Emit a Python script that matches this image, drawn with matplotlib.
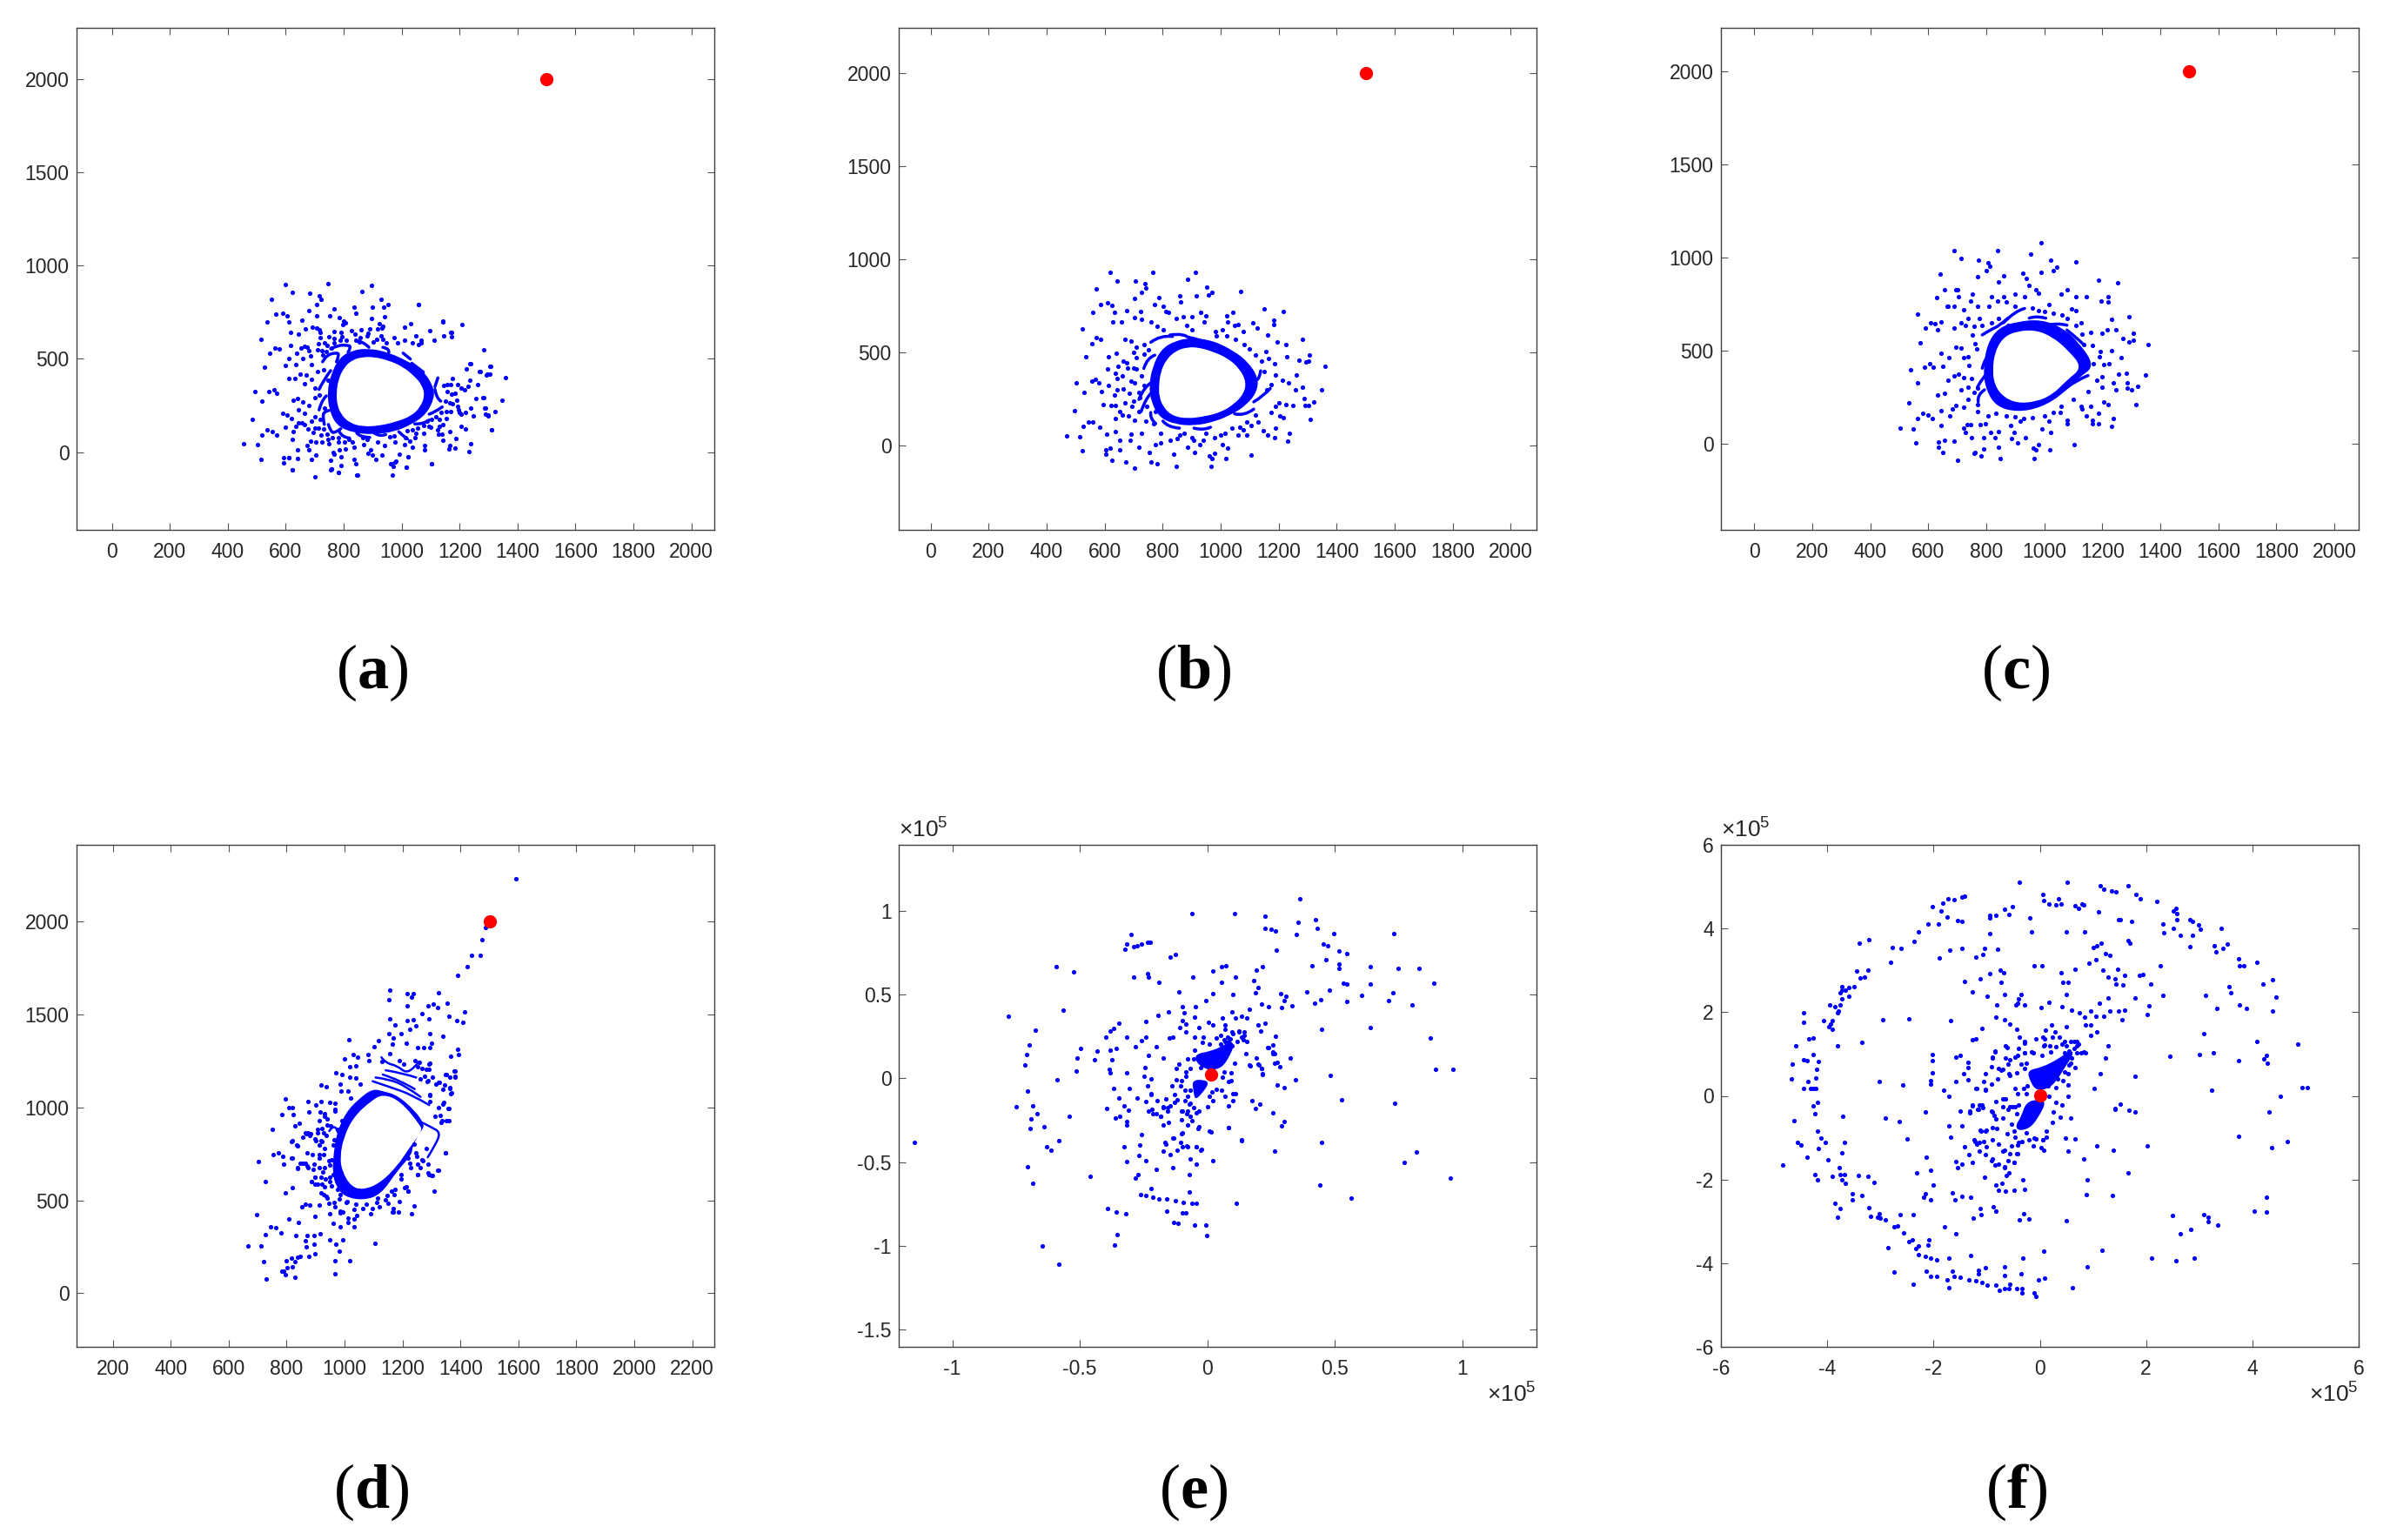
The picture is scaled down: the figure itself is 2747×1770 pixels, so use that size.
#!/usr/bin/env python3
# six scatter panels, blue points with a red target marker
import matplotlib
matplotlib.use('Agg')
import matplotlib.pyplot as plt
from matplotlib.path import Path
from matplotlib.patches import PathPatch

plt.rcParams['font.family'] = ['Liberation Sans', 'DejaVu Sans']
plt.rcParams['mathtext.fontset'] = 'custom'
plt.rcParams['mathtext.rm'] = 'Liberation Serif'
plt.rcParams['mathtext.bf'] = 'Liberation Serif:bold'
plt.rcParams['mathtext.sf'] = 'Liberation Sans'

target = (1500, 2000)
target_e = (0.015, 0.022)
target_f = (0.0, 0.02)

#### panel (a) ####
a_pts = [(745,902),(895,893),(622,855),(682,853),(863,861),(716,839),(723,819),(929,819),(707,794),(952,790),(938,777),(898,777),(836,779),(1057,790),(767,768),(681,760),(841,743),(707,732),(753,732),(941,724),(784,721),(895,715),(657,708),(800,705),(805,694),(611,696),(797,683),(924,691),(934,676),(1031,688),(1010,668),(1141,698),(1207,683),(692,669),(668,662),(707,666),(715,655),(719,640),(827,652),(766,648),(859,658),(891,660),(916,660),(931,666),(1098,651),(1171,643),(616,644),(643,632),(792,640),(838,634),(883,638),(718,615),(749,621),(795,619),(766,609),(857,612),(928,624),(973,612),(1050,624),(1146,624),(1171,618),(880,623),(1009,598),(1111,602),(1066,598),(787,598),(808,601),(766,588),(735,587),(843,598),(855,593),(903,591),(915,604),(935,604),(947,585),(986,585),(1038,585),(1058,579),(1068,585),(618,573),(712,582),(742,573),(757,560),(654,560),(665,568),(675,562),(681,542),(639,532),(709,548),(725,543),(739,541),(686,517),(729,520),
(456,44),(502,39),(514,-41),(517,92),(486,177),(493,323),(517,275),(542,326),(560,336),(570,316),(526,454),(545,529),(563,557),(577,555),(516,606),(537,698),(565,739),(590,745),(605,732),(552,822),(600,901),(535,118),(553,110),(568,90),(593,-31),(593,-59),(610,-31),(623,-95),(702,-134),(759,-90),(783,-110),(847,-123),(967,-123),(964,-64),(977,-54),(1016,-82),(1104,-62),(1021,-26),(1231,3),(1237,46),(1311,118),(1347,280),(1321,218),(1297,198),(1288,234),(1282,290),(1357,398),(1306,462),(1283,547),(1237,475),(1295,416),(1272,434),(1170,644),(1142,701),(1058,791),
(1236,474),(1305,460),(1223,448),(1269,432),(1303,420),(1291,414),(1234,387),(1262,362),(1229,351),(1217,336),(1205,342),(1192,362),(1175,393),(1170,364),(1158,362),(1144,356),(1183,317),(1172,309),(1158,325),(1191,279),(1150,273),(1165,265),(1175,258),(1194,247),(1257,287),(1281,292),(1285,236),(1237,236),(1289,203),(1299,195),(1247,195),(1219,211),(1205,205),(1198,214),(1195,226),(1168,215),(1153,215),(1135,211),(1155,180),(1117,190),(1130,175),(1141,148),(1204,139),(1219,122),(1310,120),(1165,109),(1125,117),(1128,98),(1138,98),(1188,73),(1143,63),(1185,19),(1165,36),(1163,17),(1101,133),(1088,167),(1102,177),(1095,136),(1075,102),(1055,130),(1037,120),(1020,113),(1047,77),(1079,36),(1078,11),(1037,27),(1021,-26),(1102,-62),(1016,-81),(980,-51),(961,-65),(970,-79),(991,-12),(933,-17),(911,-42),(899,-14),(883,-8),(893,13),(846,-125),(842,-61),(836,-39),(792,-73),(791,-26),(754,-45),(765,0),(768,-12),(784,13),(806,17),(836,24),(781,-112),(759,-89),(755,-98),(622,-95),(688,-40),(704,-17),(641,-33),(610,-28),(681,11),(640,13),(675,36),(686,58),(703,56),(724,53),(748,44),(623,66),(627,109),(694,106),(712,130),(701,128),(678,125),(666,145),(655,155),(645,155),(635,139),(732,125),(743,98),(723,89),(760,78),(745,67),(783,55),(783,75),(802,52),(818,70),(831,55),(865,78),(880,67),(868,39),(916,55),(942,34),(959,83),(975,86),(977,52),(1009,39),(1013,78),(1028,58),(1049,102),(1075,141),(1130,136),
(650,420),(632,397),(672,415),(690,392),(710,430),(665,365),(700,345),(625,280),(640,285),(660,270),(680,250),(700,290),(715,305),(730,440),(600,465),(610,395),(590,210),(605,200),(600,135),(620,180),(645,225),(665,210),(700,190),(720,175),(690,165),(735,235),(745,385),(690,470),(660,500),(635,470),(610,500)]
a_arms = [[(755,554),(780,573),(810,574),(827,566),(815,535)],
          [(727,484),(740,520),(775,534),(785,523),(775,484)],
          [(715,336),(730,385),(755,437)],
          [(715,226),(725,281),(740,301)],
          [(733,148),(727,195),(735,219),(750,223)],
          [(747,148),(755,109),(770,102),(790,125)],
          [(785,109),(795,78),(820,75)],
          [(845,102),(855,81),(890,78)],
          [(905,102),(925,81),(945,94)],
          [(990,109),(1005,86),(1020,70)],
          [(1045,151),(1075,148),(1095,172)],
          [(1095,203),(1115,214),(1140,242)],
          [(1115,336),(1120,289),(1135,273)],
          [(1115,351),(1125,398)],
          [(1035,476),(1075,429)],
          [(1005,531),(1030,499)],
          [(935,562),(960,554),(955,531)],
          [(845,598),(870,590),(887,562)]]
a_ring_outer = [(743,320),(755,414),(785,507),(830,546),(885,557),(955,535),(1025,484),(1075,437),(1110,351),(1113,289),(1085,203),(1035,148),(975,109),(905,94),(835,102),(775,141),(750,226)]
a_ring_inner = [(775,312),(780,382),(800,453),(830,495),(865,510),(905,510),(955,492),(1005,457),(1045,406),(1070,359),(1080,304),(1065,242),(1035,195),(985,164),(925,141),(865,136),(820,156),(790,203),(777,258)]

#### panel (b) ####
b_pts = [(468,54),(514,49),(522,-28),(527,103),(496,190),(502,338),(529,285),(555,346),(568,356),(580,338),(535,477),(555,549),(572,579),(586,574),(524,628),(558,718),(586,759),(610,769),(624,756),(572,844),(619,933),(643,887),(766,933),(705,885),(914,933),(885,895),(738,872),(743,849),(728,826),(786,797),(858,805),(863,774),(952,854),(970,826),(957,808),(916,805),(1069,831),(1151,736),(1217,720),(1183,674),(1183,649),(1110,659),(1041,718),(1020,697),(703,792),(773,759),(802,749),(812,723),(677,728),(723,723),(633,715),(628,667),(657,667),(703,690),(726,677),(759,667),(781,641),(801,621),(819,718),(847,685),(870,692),(900,692),(932,718),(949,697),(944,667),(883,646),(900,621),(982,615),(1007,621),(1023,667),(1048,646),(1060,651),(1077,615),(1125,633),(1163,595),(1196,559),(1155,505),(1229,479),(1283,574),(1306,490),(1361,428),(1270,462),(1224,544),(1262,379),(1295,449),(1303,454),(1348,300),(1320,236),(1292,218),(1302,215),(1287,256),(1282,313),(1257,300),(1234,338),(1212,351),(1188,382),(1249,215),(1224,223),(1201,231),(1217,151),(1204,159),(1188,95),(1185,44),(1163,56),(1237,69),(1232,26),(1309,144),(1130,126),(1147,82),(1105,108),(1077,87),(1104,-49),(1018,-67),(1023,-10),(979,-41),(967,-108),(960,-56),(970,-67),(911,-33),(847,-110),(839,-46),(781,-97),(759,-85),(753,-33),(702,-121),(674,-85),(652,-21),(619,-13),(603,-46),(605,-21),(624,-79),(692,62),(687,31),(717,-8),(776,5),(792,18),(825,31),(886,-8),(908,31),(929,5),(1007,5),(1015,69),(949,69),(875,69),(792,69),(727,69),(652,31),(636,77),(606,64),(583,100),(558,126),(545,128),(636,146),(661,164),(682,159),(703,138),(743,133),(768,120),(776,185),(718,185),(694,210),(652,185),(636,218),(621,218),(595,223),(590,292),(634,274),(644,300),(664,305),(685,282),(718,287),(702,338),(735,326),(661,377),(644,364),(614,326),(636,390),(664,454),(677,446),(710,415),(726,377),(710,472),(735,492),(751,518),(647,428),(611,415),(614,480),(641,497),(669,574),(690,564),(710,531),(735,544),
(1000,60),(1040,95),(1060,60),(1090,130),(1120,165),(1175,180),(1190,210),(1160,300),(1175,330),(1150,400),(1185,440),(1140,455),(1165,470),(1120,490),(1100,520),(1080,545),(1050,570),(1020,590),(985,590),(850,40),(860,60),(900,45),(940,30),(980,45),(1090,60),(1065,100),(700,420),(690,350),(720,260),(700,240),(670,230),(745,210),(700,500),(680,420)]
b_arms = [[(759,556),(792,595),(834,587)],
          [(735,415),(746,472),(773,487)],
          [(718,249),(735,313),(759,338)],
          [(726,185),(740,249),(759,282)],
          [(759,179),(756,146),(776,120)],
          [(801,133),(817,100),(858,95)],
          [(908,95),(941,82),(965,100)],
          [(1048,172),(1081,159),(1114,197)],
          [(1114,236),(1147,267),(1171,308)],
          [(1105,364),(1130,326),(1138,403)],
          [(891,582),(932,569),(965,549)],
          [(825,595),(875,608),(896,574)]]
b_ring_outer = [(753,325),(765,425),(795,520),(845,565),(900,580),(975,565),(1045,510),(1095,450),(1130,365),(1125,290),(1090,220),(1040,170),(980,130),(910,108),(845,115),(790,150),(760,235)]
b_ring_inner = [(787,320),(792,392),(812,463),(845,510),(885,530),(925,528),(975,505),(1025,470),(1065,415),(1088,345),(1080,280),(1045,222),(1000,180),(945,158),(885,146),(835,160),(803,205),(788,265)]

#### panel (c) ####
c_pts = [(502,85),(547,82),(558,5),(563,136),(532,221),(580,162),(599,157),(615,136),(539,398),(563,329),(588,413),(604,429),(618,411),(571,544),(562,698),(591,621),(607,649),(623,644),(633,611),(628,786),(656,829),(695,829),(641,914),(690,1037),(713,994),(773,988),(807,973),(799,929),(813,952),(769,899),(839,1040),(843,868),(859,901),(953,1019),(989,1078),(1021,988),(1032,929),(1042,950),(990,922),(927,917),(937,888),(948,850),(972,829),(981,811),(1110,976),(1078,827),(1057,806),(1188,878),(1253,865),(1146,791),(1219,788),(1219,760),(1195,765),(1094,727),(1110,714),(1110,791),(1016,747),(981,714),(932,791),(899,804),(859,791),(839,765),(818,791),(810,739),(769,739),(753,804),(745,765),(705,791),(688,739),(664,739),(701,829),(644,657),(667,739),(721,719),(737,675),(729,637),(688,624),(713,650),(643,488),(651,418),(672,462),(696,521),(713,513),(721,462),(737,470),(766,508),(753,585),(786,637),(758,632),(777,675),(818,650),(843,675),(875,637),(1078,675),(1110,637),(1127,650),(1159,598),(1200,593),(1216,611),(1248,611),(1232,670),(1292,683),(1308,596),(1292,547),(1308,555),(1271,567),(1232,501),(1266,465),(1357,534),(1205,426),(1224,431),(1167,529),(1135,534),(1192,496),(1256,375),(1282,380),(1349,370),(1321,308),(1302,288),(1287,298),(1287,329),(1237,329),(1247,290),(1200,303),(1205,226),(1221,213),(1315,211),(1238,136),(1232,95),(1187,162),(1188,110),(1166,128),(1166,108),(1159,200),(1130,187),(1127,200),(1146,149),(1104,-5),(1078,110),(1078,128),(1055,169),(1057,200),(1016,123),(1021,59),(992,82),(1018,-33),(981,-5),(961,-23),(972,-31),(964,-77),(935,33),(907,3),(886,28),(896,59),(916,123),(883,97),(847,-77),(843,-18),(830,33),(843,67),(815,59),(792,33),(792,-26),(782,-64),(761,-44),(757,-51),(750,33),(701,-87),(651,-46),(636,8),(636,-18),(656,21),(688,15),(721,85),(727,59),(734,103),(747,103),(778,103),(769,175),(797,110),(805,149),(834,162),(675,149),(683,187),(696,205),(721,195),(643,180),(643,98),(631,262),(656,272),(669,341),(688,367),(705,375),(721,354),(737,303),(757,277),(713,290),(769,213),(737,239),
(1000,150),(960,140),(930,135),(900,145),(870,150),(1030,170),(1100,240),(1150,280),(1180,340),(1200,360),(1170,430),(1190,470),(1130,590),(1060,690),(1030,700),(1000,710),(960,730),(900,740),(870,760),(760,540),(740,420),(750,350),(770,300)]
c_arms = [[(786,585),(818,616),(843,632),(875,675)],
          [(786,406),(797,470),(818,488)],
          [(769,303),(786,354),(810,393)],
          [(772,226),(769,265),(794,290)],
          [(859,650),(899,714),(932,727)],
          [(948,675),(972,688),(1005,675)],
          [(1011,637),(1044,650),(1078,637)],
          [(1078,611),(1110,572),(1135,534)],
          [(1078,303),(1110,341),(1151,367)]]
c_ring_outer = [(789,393),(802,534),(842,624),(907,657),(989,668),(1062,624),(1118,547),(1175,418),(1118,354),(1062,265),(989,195),(907,170),(834,200),(799,290)]
c_ring_inner = [(821,393),(830,496),(859,573),(907,606),(972,611),(1029,573),(1078,509),(1132,411),(1078,342),(1029,265),(972,226),(907,218),(859,252),(830,311)]

#### panel (d) ####
d_pts = [(1591,2231),(1485,1967),(1473,1905),(1355,1559),(1439,1817),(1467,1820),(1424,1757),(1389,1709),(1157,1629),(1215,1614),(1238,1612),(1232,1592),(1324,1619),(1152,1579),(1307,1556),(1289,1546),(1321,1536),(1216,1546),(1268,1506),(1414,1516),(1359,1491),(1157,1479),(1387,1466),(1408,1459),(1291,1476),(1238,1474),(1215,1466),(1174,1446),(1245,1441),(1226,1421),(1295,1398),(1196,1398),(1168,1373),(1338,1383),(1152,1396),(1014,1366),(1118,1361),(1212,1346),(1166,1341),(1301,1346),(1252,1323),(1272,1323),(1295,1323),(1389,1313),(1392,1283),(1367,1276),(1101,1328),(1080,1283),(1030,1286),(1001,1263),(1044,1273),(1019,1221),(1039,1224),(1083,1253),(1130,1246),(1155,1291),(1188,1253),(1205,1233),(1243,1253),(1258,1241),(1295,1236),(1292,1203),(1377,1198),(1352,1178),(1382,1165),(1261,1153),(1286,1140),(1324,1135),(1344,1123),(1364,1103),(1369,1078),(1295,1065),(1341,1028),(1359,995),(1337,927),(1359,927),(1349,757),(1324,664),(1291,639),(1302,634),(1310,551),(1253,639),(1212,571),(1220,551),(1241,471),(1232,426),(1187,439),(1168,456),(1168,439),(1104,268),(1017,175),(968,105),(968,175),(981,226),(993,288),(984,358),(1034,356),(1034,401),(1011,381),(993,439),(968,464),(961,376),(948,288),(969,263),(897,213),(896,263),(876,200),(894,313),(916,321),(870,311),(866,281),(867,251),(846,200),(829,170),(837,195),(829,88),(816,188),(821,145),(800,175),(803,140),(791,120),(796,100),(785,118),(729,75),(722,173),(712,256),(666,256),(781,326),(744,356),(763,351),(727,318),(833,313),(808,401),(841,381),(854,464),(866,481),(879,474),(912,476),(898,414),(948,426),(984,431),(696,424),(727,601),(796,539),(821,569),(702,707),(755,747),(772,757),(786,737),(791,694),(816,727),(838,674),(856,702),(866,702),(892,669),(874,677),(899,627),(887,601),(899,589),(918,539),(923,589),(935,614),(940,514),(965,489),(750,882),(819,822),(836,797),(828,902),(783,962),(795,1048),(808,1000),(819,998),(823,960),(845,915),(874,1033),(918,1033),(900,1015),(948,1028),(966,1023),(968,990),(931,965),(940,940),(866,865),(874,865),(882,860),(907,865),(920,1123),(936,1113),(969,1186),(990,1178),(984,1128),(988,1090),(1011,1088),(1019,1165),(1039,1158),(1055,1128),(1022,1053),(953,902),(965,827),(923,815),(899,832),(912,797),(931,777),(914,727),(945,714),(931,677),(919,627),(948,627),(956,576),(931,571),(981,506),(1006,489),(1032,451),(1063,456),(1096,456),(1121,464),(1146,526),(1113,514),(1162,551),(1195,614),(1220,727),(1241,802),(1261,677),(1269,714),(1248,739),(1228,677),
(877,977),(917,974),(932,951),(967,982),(912,930),(940,908),(907,880),(922,885),(867,860),(880,849),(855,838),(902,821),(919,821),(837,795),(927,865),(937,849),(872,754),(890,745),(912,748),(927,748),(817,818),(819,726),(837,670),(847,701),(872,685),(896,693),(912,678),(924,654),(897,623),(887,600),(907,589),(927,532),(937,522),(947,483),(984,444),(1012,405),(1042,420),(1090,428),(1165,436),(1189,493),(1207,568),(1219,548),(1150,483),(1170,532),(1287,646),(1300,634),(1252,639),(1322,662),(1347,756),(1252,693),(1267,717),(1287,693),(1282,779),(1332,919),(1350,927),(1312,951),(1330,958),(1357,993),(1339,1018),(1294,1068),(1295,1033),(1324,1000),(1362,1107),(1366,1075),(1340,1096),(1315,1125),(1327,1135),(1347,1177),(1362,1164),(1382,1169),(1380,1197),(1302,1161),(1277,1169),(1287,1146),(1282,1203),(1267,1208),(1252,1220),(1292,1234),
(955,720),(948,690),(960,640),(950,600),(975,560),(985,530),(1010,495),(1040,480),(1075,478),(1110,490),(1140,505),(960,800),(975,880),(990,930),(1175,560),(1195,640),(1225,700),(1245,755)]
d_strands = [[(1097,1141),(1162,1107),(1232,1068),(1292,1013)],
             [(1107,1161),(1152,1153),(1212,1114),(1262,1057)],
             [(1132,1177),(1192,1146),(1242,1099)],
             [(1142,1200),(1202,1185),(1247,1161)],
             [(1127,1270),(1142,1239),(1182,1224),(1212,1185),(1242,1216),(1257,1247)],
             [(1267,919),(1297,896),(1332,865),(1312,795),(1287,732)],
             [(947,873),(967,919),(977,865)]]
d_ring_outer = [(962,748),(972,860),(1005,975),(1052,1050),(1097,1100),(1132,1088),(1182,1066),(1242,985),(1278,904),(1262,870),(1235,795),(1232,745),(1182,660),(1125,530),(1062,500),(1000,520),(970,575),(958,654)]
d_ring_inner = [(984,732),(997,841),(1032,951),(1092,1036),(1132,1072),(1192,1036),(1262,904),(1267,873),(1222,779),(1182,685),(1122,592),(1062,556),(1022,576),(992,654)]

#### panel (e), units of 1e5 ####
e_pts = [(-1.15,-.38),(-.78,.37),(-.75,-.17),(-.715,.08),(-.71,.14),(-.70,.20),(-.676,.29),(-.704,-.075),(-.684,-.164),(-.69,-.24),(-.667,-.21),(-.695,-.30),(-.704,-.53),(-.685,-.627),(-.646,-1.0),(-.584,-1.11),(-.639,-.29),(-.629,-.41),(-.612,-.43),(-.584,-.373),(-.594,.668),(-.524,.638),(-.567,.407),(-.498,.181),(-.511,.123),(-.513,.042),(-.588,-.006),(-.541,-.226),(-.459,-.585),(-.444,.109),(-.433,.164),(-.397,.248),(-.38,.281),(-.369,.30),(-.346,.331),(-.382,.17),(-.356,.178),(-.375,.109),(-.384,.053),(-.38,.033),(-.367,-.061),(-.348,-.12),(-.395,-.181),(-.36,-.237),(-.345,-.226),(-.328,-.164),(-.311,-.192),(-.315,-.259),(-.318,-.281),(-.326,-.407),(-.315,-.496),(-.39,-.777),(-.356,-.797),(-.32,-.81),(-.354,-.933),(-.363,-.997),(-.324,.772),(-.317,.805),(-.298,.858),(-.29,.788),(-.275,.794),(-.258,.80),(-.234,.811),(-.225,.813),(-.288,.607),(-.236,.627),(-.232,.604),(-.189,.574),(-.146,.724),(-.125,.738),(-.112,.518),(-.06,.986),(-.056,.604),(.021,.643),(.107,.986),(.227,.969),(.227,.897),(.249,.889),(.268,.883),(.361,1.072),(.356,.933),(.425,.95),(.43,.897),(.348,.858),(.494,.864),(.455,.805),(.472,.794),(.27,.766),(.464,.708),(.515,.763),(.547,.747),(.517,.685),(.515,.655),(.41,.671),(.056,.669),(.071,.674),(.109,.604),(.191,.649),(.217,.666),(.18,.582),(.199,.543),(.189,.51),(.054,.574),(.021,.507),(-.006,.465),(.099,.499),(.288,.504),(.308,.49),(.30,.465),(.29,.421),(.331,.435),(.39,.518),(.479,.529),(.421,.448),(.444,.468),(.448,.292),(.532,.571),(.547,.565),(.547,.46),(.605,.496),(.637,.565),(.64,.666),(.749,.657),(.828,.657),(.73,.864),(.888,.571),(.728,.51),(.71,.465),(.803,.44),(.637,.306),(.875,.242),(.895,.053),(.963,.053),(.483,.017),(.526,-.128),(.734,-.148),(.448,-.382),(.818,-.44),(.772,-.504),(.951,-.596),(.44,-.638),(.564,-.713),(.112,-.747),(.262,-.437),(.133,-.368),(.022,-.493),(.009,-.315),(.084,-.292),(.29,-.284),(.30,-.256),(.257,-.206),(.204,-.153),(.189,-.178),(.174,-.134),(.30,-.056),(.272,-.039),(.345,-.008),(.215,.028),(.163,.078),(.2,.084),(.213,.058),(.275,.095),(.285,.072),(.324,.12),(.264,.145),(.238,.184),(.257,.156),(.266,.253),(.208,.281),(.227,.331),(.197,.318),(.238,.429),(.212,.446),(.165,.415),(.135,.373),(.154,.359),(.109,.359),(.097,.396),(.06,.359),(.004,.337),(-.047,.426),(-.099,.429),(-.09,.393),(-.154,.396),(-.195,.376),(-.24,.34),(-.099,.345),(-.052,.365),(-.109,.304),(-.084,.323),(-.034,.304),(.022,.318),(.069,.318),(-.137,.248),(-.15,.242),(-.086,.276),(-.049,.248),(-.015,.248),(-.318,.248),(-.24,.248),(-.258,.228),(-.281,.187),(-.202,.187),(-.23,.136),(-.174,.123),(-.245,.067),(-.249,.011),(-.221,-.003),(-.236,-.045),(-.221,-.092),(-.243,-.136),(-.277,-.12),(-.315,.033),(-.307,-.058),(-.217,-.184),(-.202,-.212),(-.184,-.226),(-.155,-.198),(-.174,-.17),(-.146,-.162),(-.118,-.128),(-.099,-.198),(-.071,-.156),(-.081,-.212),(-.062,-.253),(-.034,-.29),(-.099,-.323),(-.131,-.357),(-.165,-.384),(-.258,-.337),(-.264,-.398),(-.268,-.462),(-.243,-.49),(-.202,-.546),(-.137,-.532),(-.099,-.407),(-.081,-.401),(-.043,-.407),(-.024,-.426),(-.067,-.482),(-.043,-.51),(-.071,-.574),(-.281,-.596),(-.272,-.574),(-.221,-.657),(-.071,-.677),(-.161,-.791),(-.131,-.861),(-.114,-.864),(-.049,-.875),(-.006,-.875),(-.002,-.939),(-.099,-.805),(-.086,-.805),
(-.262,-.694),(-.24,-.702),(-.215,-.71),(-.189,-.719),(-.161,-.721),(-.127,-.733),(-.096,-.741),(-.062,-.747),(-.043,-.747),
(.079,.248),(.097,.276),(.125,.276),(.144,.276),(.135,.248),(.154,.22),(.116,.22),(.088,.234),(.069,.22),(.051,.206),(.097,.192),
(.053,.256),(.07,.291),(.099,.265),(.122,.282),(.144,.256),(.139,.23),(.082,.222),(.065,.23),(.036,.239),(.008,.204),(-.02,.213),(-.049,.17),(-.077,.118),(-.055,.118),(-.111,.083),(-.123,.057),(-.083,.04),(-.066,.057),(-.026,.066),(.065,.04),(.093,.031),(.059,.005),(.082,-.021),(.093,-.012),(.036,-.064),(.019,-.081),(.008,-.107),(.056,-.073),(.07,-.107),(.099,-.094),(.11,-.094),(.099,-.133),(.022,-.133),(0,-.168),(.083,-.165),(-.083,.014),(-.1,-.012),(-.123,-.007),(-.14,-.047),(-.106,-.047),(-.089,-.073),(-.066,-.073),(-.077,-.107),(-.089,-.133),(-.066,-.151),(-.055,-.177),(-.077,-.194),(-.1,-.194),(-.032,-.194),(-.066,-.229),(-.043,-.208),(-.128,-.099),(-.128,-.142),(-.162,-.125),(-.197,-.133),(-.22,-.099),(-.157,-.177),(-.174,-.177),(-.231,-.194),(-.214,-.211),(-.185,-.229),(-.1,-.246),(-.077,-.281),(-.151,-.263),(-.174,-.281),(-.1,-.333),(-.134,-.359),(-.163,-.393),(-.106,-.381),(-.077,-.411),(-.043,-.411),(-.026,-.428),(-.117,-.428),(-.145,-.454),(-.174,-.437),(-.038,-.298),(.014,-.321),(.084,-.295),(.133,-.371),(.192,.121),(.201,.08),(.212,.057),(.214,.023),(.264,.092),(.258,.201),(.235,.182),(.256,.147),(.15,.149),(.167,.075),(.105,.092)]
e_mass_up = [(-.049,.144),(.008,.161),(.053,.187),(.09,.225),(.105,.2),(.088,.135),(.059,.066),(.019,.049),(-.009,.057),(-.043,.092)]
e_mass_low = [(-.06,-.012),(-.015,-.007),(.008,-.029),(-.026,-.099),(-.049,-.128),(-.055,-.073)]

#### panel (f), units of 1e5 ####
f_pts = [(-.38,5.11),(.51,5.11),(1.13,5.03),(1.2,4.93),(1.35,4.89),(1.44,4.87),(1.66,5.02),(1.81,4.82),(1.89,4.72),(2.21,4.65),(.05,4.81),(.08,4.66),(.18,4.58),(.3,4.56),(.36,4.72),(.4,4.58),(.66,4.54),(.73,4.49),(.79,4.59),(.83,4.56),(1.11,4.39),(2.51,4.42),(2.57,4.49),(2.58,4.36),(2.58,4.22),(2.51,4.01),(2.65,3.83),(2.83,4.22),(2.88,4.16),(2.98,4.09),(3.02,3.99),(2.88,3.83),(2.82,3.57),(3.42,4.0),(3.28,3.59),(3.32,3.44),(3.44,3.53),(3.53,3.63),(3.74,3.28),(3.75,3.1),(3.84,3.1),(4.09,3.2),(4.2,2.68),(4.38,2.77),(4.45,2.37),(4.38,2.02),(3.76,2.18),(3.89,2.1),(3.56,2.62),(3.59,2.47),(3.12,2.4),(3.33,2.1),(3.09,1.48),(3.01,.99),(3.26,1.02),(2.44,.94),(3.74,.85),(4.09,1.31),(4.26,.97),(4.21,.88),(4.28,.79),(4.85,1.24),(4.94,.2),(5.04,.2),(4.52,-.02),(4.31,-.39),(4.66,-1.09),(4.37,-1.24),(3.74,-.97),(3.24,.13),(2.03,-1.19),(1.66,-1.84),(1.79,-.38),(1.68,-.35),(1.51,-.19),(1.41,-.33),(1.41,-.3),(1.79,.46),(1.03,.18),(1.13,.54),(4.27,-2.42),(4.27,-2.78),(4.04,-2.76),(3.35,-3.08),(3.09,-2.83),(3.16,-2.91),(3.16,-3.01),(2.84,-3.2),(2.65,-3.29),(2.49,-2.86),(2.11,-3.87),(2.56,-3.94),(2.91,-3.87),(1.17,-3.7),(.89,-4.08),(.62,-4.58),(.5,-2.98),(.88,-2.36),(.9,-2.01),(1.36,-2.39),(.83,-1.5),(.54,-1.33),(1.07,-1.2),(1.39,-1.3),(.49,-1.0),(.66,-1.03),(.07,-3.71),(.09,-4.35),(-.02,-4.39),(-.1,-4.72),(-.07,-4.79),(-.33,-4.61),(-.33,-4.72),(-.44,-4.6),(-.56,-4.5),(-.58,-4.61),(-.66,-4.61),(-.76,-4.65),(-.83,-4.52),(-.99,-4.52),(-1.09,-4.46),(-1.21,-4.41),(-1.34,-4.39),(-1.49,-4.33),(-1.62,-4.31),(-1.64,-4.19),(-1.75,-4.39),(-1.71,-4.59),(-1.94,-4.31),(-2.06,-4.31),(-2.13,-4.2),(-2.38,-4.5),(-2.74,-4.22),(-.66,-4.08),(-.66,-4.3),(-.36,-4.26),(-.32,-3.87),(-1.03,-4.11),(-1.16,-4.17),(-1.15,-4.26),(-1.3,-3.82),(-1.71,-3.87),(-1.94,-3.92),(-2.06,-3.88),(-2.11,-3.57),(-2.08,-3.44),(-2.28,-3.59),(-2.33,-3.64),(-2.4,-3.44),(-2.46,-3.49),(-2.86,-3.63),(-2.28,-3.8),(-2.16,-3.83),(-2.57,-3.28),(-2.68,-3.11),(-2.75,-3.13),(-2.62,-2.84),(-2.39,-2.83),(-2.91,-2.97),(-3.02,-2.81),(-3.01,-2.92),(-3.05,-2.9),(-3.18,-2.88),(-3.21,-2.67),(-3.12,-2.07),(-3.23,-1.92),(-3.42,-1.9),(-3.35,-2.39),(-3.53,-2.33),(-3.53,-2.49),(-3.76,-2.7),(-3.8,-2.9),(-3.86,-2.56),(-3.66,-2.08),(-3.72,-2.01),(-3.75,-1.89),(-3.78,-1.71),(-3.67,-1.89),(-3.9,-1.92),(-4.19,-2.01),(-4.24,-1.88),(-4.84,-1.65),(-4.38,-1.47),(-3.98,-1.53),(-3.73,-1.36),(-4.03,-1.11),(-3.67,-1.12),(-4.17,-1.26),(-4.12,-1.0),(-4.19,-.85),(-4.49,-1.18),(-4.56,-1.11),(-4.63,-.6),(-4.23,-.42),(-4.19,-.15),(-4.26,-.23),(-3.7,-.49),(-4.67,.41),(-4.66,.76),(-4.59,1.19),(-4.35,1.36),(-4.26,1.39),(-4.26,.99),(-4.45,.87),(-4.38,.85),(-4.16,.83),(-4.2,.63),(-4.21,.43),(-4.37,.35),(-4.44,.18),(-4.32,.18),(-4.26,.18),(-4.21,.18),(-4.44,1.76),(-4.44,1.99),(-4.07,1.79),(-3.94,1.72),(-3.97,1.65),(-3.91,1.8),(-3.91,1.6),(-3.95,2.18),(-3.85,2.13),(-3.81,1.99),(-3.79,2.03),(-3.76,2.18),(-3.72,2.32),(-3.75,2.47),(-3.73,2.6),(-3.72,2.52),(-3.66,2.52),(-3.59,2.39),(-3.59,2.58),(-3.5,2.61),(-3.8,1.19),(-3.35,1.28),(-3.44,2.99),(-3.38,2.82),(-3.3,2.83),(-3.23,3.01),(-3.4,3.66),(-3.22,3.73),(-2.81,3.19),(-2.78,3.55),(-2.61,3.52),(-2.36,3.7),(-2.29,3.93),(-2.11,4.11),(-2.03,4.52),(-1.9,4.11),(-1.86,4.42),(-1.83,4.61),(-1.74,4.27),(-1.73,4.72),(-1.62,4.69),(-1.55,4.2),(-1.47,4.17),(-1.47,4.75),(-1.41,4.78),(-1.89,3.29),(-1.7,3.48),(-1.46,3.53),(-1.42,2.73),(-1.27,2.49),(-1.2,3.32),(-1.08,3.38),(-1.04,3.53),(-.8,3.5),(-1.12,2.79),(-.94,3.87),(-.94,4.32),(-.94,4.25),(-.82,4.32),(-.66,4.47),(-.58,4.34),(-.52,4.52),(-.19,4.26),(-.16,3.91),(-.11,3.1),(-.94,2.92),(-.74,3.01),(-.68,2.94),(-.73,2.71),(-.99,2.38),(-.67,2.43),(-.81,2.17),(-.42,2.21),(-.36,2.43),(-.4,2.32),(-.45,2.18),(-.29,2.18),(.04,3.1),(.02,2.11),(.18,2.23),(.5,3.91),(.4,2.95),(.44,2.71),(.54,2.71),(.5,2.43),(.66,3.03),(.85,3.91),(.93,3.18),(1.05,3.26),(1.0,3.55),(1.08,3.58),(1.16,3.64),(1.23,3.41),(1.31,3.36),(1.18,3.01),(1.28,2.83),(1.47,3.03),(1.41,2.8),(1.44,2.68),(1.56,2.65),(1.59,2.88),(1.66,3.71),(1.7,3.66),(1.48,4.22),(1.52,4.22),(1.72,4.18),(2.32,4.11),(2.33,3.89),(2.26,3.1),(1.88,2.88),(1.94,2.9),(2.09,2.68),(2.31,2.41),(1.79,2.35),(2.05,2.15),(2.03,1.95),(1.12,2.22),(1.28,2.33),(1.32,2.02),(1.48,2.02),(1.59,2.04),(1.54,1.82),(1.2,1.91),(1.05,1.91),(.95,2.02),(.74,1.98),(.59,2.04),(.42,2.13),(.86,1.69),(.5,1.66),(.84,1.88),(.96,1.69),(1.08,1.52),(.95,1.44),(1.28,1.19),(1.24,.9),(.83,1.04),(-2.46,1.85),(-2.95,1.83),(-1.68,1.79),(-3.02,.35),(-2.58,.25),(-2.02,.85),(-2.02,.55),(-2.06,.37),(-2.06,.29),(-2.02,.98),(-1.81,.13),(-1.71,0),(-1.58,.35),(-2.91,-.54),(-2.65,-.62),(-2.5,-1.03),(-2.15,-.38),(-2.13,-1.46),(-2.06,-1.78),(-2.31,-1.85),(-2.01,-2.13),(-2.15,-2.34),(-2.19,-2.43),(-2.06,-2.49),(-1.65,-2.31),(-1.6,-2.49),(-1.46,-2.4),(-1.3,-2.43),(-1.58,-3.3),(-1.8,-3.14),(-1.25,-2.92),(-1.12,-2.69),(-1.11,-2.83),(-.88,-2.66),(-.82,-2.75),(-.38,-2.96),(-.3,-2.81),(-.21,-2.95),(-.32,-2.01),(-.29,-2.24),(-.49,-2.25),(-.65,-2.27),(-.78,-2.25),(-.82,-2.14),(-.71,-2.1),(-.63,-1.9),(-.58,-1.85),(-1.04,-1.94),(-1.58,-1.57),(-1.55,-1.71),(-1.47,-1.63),(-1.27,-1.6),(-1.68,-.98),(-1.71,-.71),(-1.47,-.71),(-1.42,-1.22),(-1.34,-1.4),(-1.23,-1.06),(-1.18,-1.15),(-1.13,-1.33),(-1.0,-1.21),(-.89,-1.06),(-.78,-1.16),(-.69,-1.33),(-.56,-1.38),(-.42,-1.38),(-.42,-1.18),(-.91,-1.55),(-.78,-1.63),(-.66,-1.69),(-.49,-1.6),(-.34,-1.1),(-.1,-1.01),(.06,-1.04),(.08,-1.29),(.03,-1.23),
(-1.49,-.37),(-1.31,-.37),(-1.27,-.21),(-1.15,-.32),(-1.09,-.21),(-1.12,-.82),(-1.0,-.82),(-.91,-.36),(-.82,-.55),(-.69,-.08),(-.56,-.26),(-.47,-.27),(-.47,.18),(-.31,.18),(-.58,.52),(-.69,.63),(-.78,.66),(-.91,.29),(-1.03,.15),(-1.02,.52),(-1.06,.35),(-1.19,.18),(-1.35,.8),(-1.35,.68),(-1.44,.52),(-1.35,.38),(-1.58,.93),(-1.49,.97),(-1.27,1.35),(-1.2,1.37),(-1.09,1.61),(-.83,1.88),(-.66,1.83),(-.56,1.72),(-.44,1.6),(-.38,1.41),(-.29,1.3),(-.65,1.19),(-.84,1.08),(-.89,.9),(-.65,.9),(-.56,.87),(-.42,.96),(-.29,1.02),(-.16,1.05),(.06,1.41),(.08,1.19),(.19,1.19),(.24,1.41),(.28,1.52),(.37,1.41),(.11,1.58),(.22,1.69),(.42,1.24),
(-.35,.75),(-.26,.79),(-.28,.65),(-.46,.93),(-.29,1.03),(-.13,1.03),(.04,.96),(.2,1.06),(.31,1.17),(.47,1.31),(.58,1.31),(.69,1.31),(.69,1.2),(.69,1.03),(.58,.79),(.66,.68),(.53,.54),(.44,.37),(.31,.2),(.53,.27),(.53,0),(.17,0),(.31,-.15),(.42,-.22),(.25,-.39),(.39,-.5),(.58,-.53),(.23,-.63),(.12,-.84),(.12,-.98),(-.07,-1.03),(.06,-1.05),(-.54,-.67),(-.48,-.84),(-.62,-.91),(-.46,-.98),(-.26,-.88),(-.21,-1.05),(-.13,-1.19),(-.4,-1.12),(-.54,-1.19),(-.67,-1.29),(-.43,-1.38),(-.59,-1.54),(-.48,-1.6),(-.67,-1.71),(-.84,-1.66),(-.89,-1.5),(-1.03,-1.4),(-1.22,-1.09),(-1.14,-1.12),(-1.06,-1.09),(-.81,-.77),(-.89,-.76),(-1.11,-.84),(-1.03,-.84),(-.7,-.53),(-.89,-.39),(-.86,-.46),(-.59,-.32),(-.51,-.25),(-.43,-.43),(-.4,-.22),(-.69,-.27),(-1.17,-.32),(-1.14,-.22),(-1.08,-.29),(-1.27,-.23),(-1.32,-.41),(-.26,.05),(-.24,.23),(-.41,.06),(-.64,-.07),(-.83,-.14),(-1.02,.14),(-1.2,.18),(-.79,.4),(-.57,.49),(-.43,.56),(-.73,.61),(-.91,.7),(-.59,.75),(-.89,.93),(-.84,1.05),(-.62,1.15),(-.4,1.13),(-.28,1.26),(-.07,1.36),(.09,1.36),(.09,1.22),
(.46,1.02),(.55,1.08),(.5,1.19),(.64,1.13),(.77,1.02),(.86,1.02),(.73,1.24),(.64,1.3),(.59,.9),(.5,.9),(.42,.85),(.55,.74),(.46,.57),(.33,.4),(.15,.24)]
f_mass_up = [(-.24,.61),(.04,.68),(.36,.89),(.58,1.1),(.64,1.0),(.47,.68),(.31,.34),(.14,.16),(-.07,.13),(-.18,.34)]
f_mass_low = [(-.26,-.15),(-.02,-.08),(.12,-.15),(-.02,-.5),(-.18,-.77),(-.40,-.84),(-.46,-.71),(-.35,-.5)]

#### axis ticks and labels ####
xticks_abc = [0, 200, 400, 600, 800, 1000, 1200, 1400, 1600, 1800, 2000]
yticks_abc = [0, 500, 1000, 1500, 2000]
xticks_d = [200, 400, 600, 800, 1000, 1200, 1400, 1600, 1800, 2000, 2200]
yticks_d = [0, 500, 1000, 1500, 2000]
xticks_e = [-1, -0.5, 0, 0.5, 1]
xlabels_e = ['-1', '-0.5', '0', '0.5', '1']
yticks_e = [-1.5, -1, -0.5, 0, 0.5, 1]
ylabels_e = ['-1.5', '-1', '-0.5', '0', '0.5', '1']
ticks_f = [-6, -4, -2, 0, 2, 4, 6]
letters = ['a', 'b', 'c', 'd', 'e', 'f']

W, H = 2747, 1770
BLUE = '#0000ff'
RED = '#ff0000'
DARK = '#262626'


def make_axes(left, top, xlim, ylim, xt, yt, xl=None, yl=None):
    ax = fig.add_axes([left/W, 1-(top+577)/H, 733/W, 577/H])
    ax.set_xlim(xlim)
    ax.set_ylim(ylim)
    ax.set_xticks(xt)
    ax.set_yticks(yt)
    ax.set_xticklabels(xl if xl else [str(v) for v in xt])
    ax.set_yticklabels(yl if yl else [str(v) for v in yt])
    ax.tick_params(direction='in', top=True, right=True, length=5.5, width=0.8,
                   color='#555555', labelsize=16.5, labelcolor=DARK)
    ax.tick_params(axis='x', pad=10)
    ax.tick_params(axis='y', pad=6)
    for s in ax.spines.values():
        s.set_linewidth(1.0)
        s.set_color('#404040')
    return ax


def scatter(ax, pts):
    ax.plot([p[0] for p in pts], [p[1] for p in pts], 'o', ms=3.7, mew=0, color=BLUE)


def curve(pts, closed):
    # quadratic path with the read points as control points, so corners render round
    if closed:
        start = ((pts[-1][0]+pts[0][0])/2, (pts[-1][1]+pts[0][1])/2)
        verts, codes = [start], [Path.MOVETO]
        for i, p in enumerate(pts):
            q = pts[(i+1) % len(pts)]
            verts += [p, ((p[0]+q[0])/2, (p[1]+q[1])/2)]
            codes += [Path.CURVE3, Path.CURVE3]
        return verts, codes
    verts, codes = [pts[0]], [Path.MOVETO]
    for i in range(1, len(pts)-1):
        p, q = pts[i], pts[i+1]
        end = q if i == len(pts)-2 else ((p[0]+q[0])/2, (p[1]+q[1])/2)
        verts += [p, end]
        codes += [Path.CURVE3, Path.CURVE3]
    if len(pts) == 2:
        verts.append(pts[1])
        codes.append(Path.LINETO)
    return verts, codes


def ring(ax, outer, inner):
    v1, c1 = curve(outer, True)
    v2, c2 = curve(inner[::-1], True)
    ax.add_patch(PathPatch(Path(v1+v2, c1+c2), facecolor=BLUE, edgecolor='none', lw=0))


def mass(ax, pts):
    v, c = curve(pts, True)
    ax.add_patch(PathPatch(Path(v, c), facecolor=BLUE, edgecolor='none', lw=0))


def strands(ax, lines, lw=2.5):
    for line in lines:
        v, c = curve(line, False)
        ax.add_patch(PathPatch(Path(v, c), facecolor='none', edgecolor=BLUE, lw=lw, capstyle='round'))


def mark(ax, p):
    ax.plot([p[0]], [p[1]], 'o', ms=11, mew=0, color=RED, zorder=5)


fig = plt.figure(figsize=(W/100, H/100), dpi=100)

ax = make_axes(88, 32, (-122, 2079), (-418, 2277), xticks_abc, yticks_abc)
ring(ax, a_ring_outer, a_ring_inner)
strands(ax, a_arms)
scatter(ax, a_pts)
mark(ax, target)

ax = make_axes(1033, 32, (-110, 2089), (-451, 2244), xticks_abc, yticks_abc)
ring(ax, b_ring_outer, b_ring_inner)
strands(ax, b_arms)
scatter(ax, b_pts)
mark(ax, target)

ax = make_axes(1978, 32, (-115, 2084), (-462, 2234), xticks_abc, yticks_abc)
ring(ax, c_ring_outer, c_ring_inner)
strands(ax, c_arms)
scatter(ax, c_pts)
mark(ax, target)

ax = make_axes(88, 971, (75, 2276), (-288, 2413), xticks_d, yticks_d)
ring(ax, d_ring_outer, d_ring_inner)
strands(ax, d_strands, 1.8)
scatter(ax, d_pts)
mark(ax, target)

ax = make_axes(1033, 971, (-1.21, 1.29), (-1.604, 1.395), xticks_e, yticks_e, xlabels_e, ylabels_e)
mass(ax, e_mass_up)
mass(ax, e_mass_low)
scatter(ax, e_pts)
mark(ax, target_e)
ax.text(0.0, 1.006, r'$\mathsf{\times 10^{5}}$', transform=ax.transAxes, ha='left', va='bottom',
        fontsize=19, color=DARK)
ax.text(1.0, -0.095, r'$\mathsf{\times 10^{5}}$', transform=ax.transAxes, ha='right', va='center',
        fontsize=19, color=DARK)

ax = make_axes(1978, 971, (-6, 6), (-6, 6), ticks_f, ticks_f)
mass(ax, f_mass_up)
mass(ax, f_mass_low)
scatter(ax, f_pts)
mark(ax, target_f)
ax.text(0.0, 1.006, r'$\mathsf{\times 10^{5}}$', transform=ax.transAxes, ha='left', va='bottom',
        fontsize=19, color=DARK)
ax.text(1.0, -0.095, r'$\mathsf{\times 10^{5}}$', transform=ax.transAxes, ha='right', va='center',
        fontsize=19, color=DARK)

# panel letters below each axes
label_pos = [(428, 773), (1372, 773), (2317, 773), (427, 1715), (1372, 1715), (2317, 1715)]
for letter, (px, py) in zip(letters, label_pos):
    fig.text(px/W, 1-py/H, r'$(\mathbf{%s})$' % letter, ha='center', va='center',
             fontsize=52, color='black')

fig.savefig('out.png', dpi=100)
